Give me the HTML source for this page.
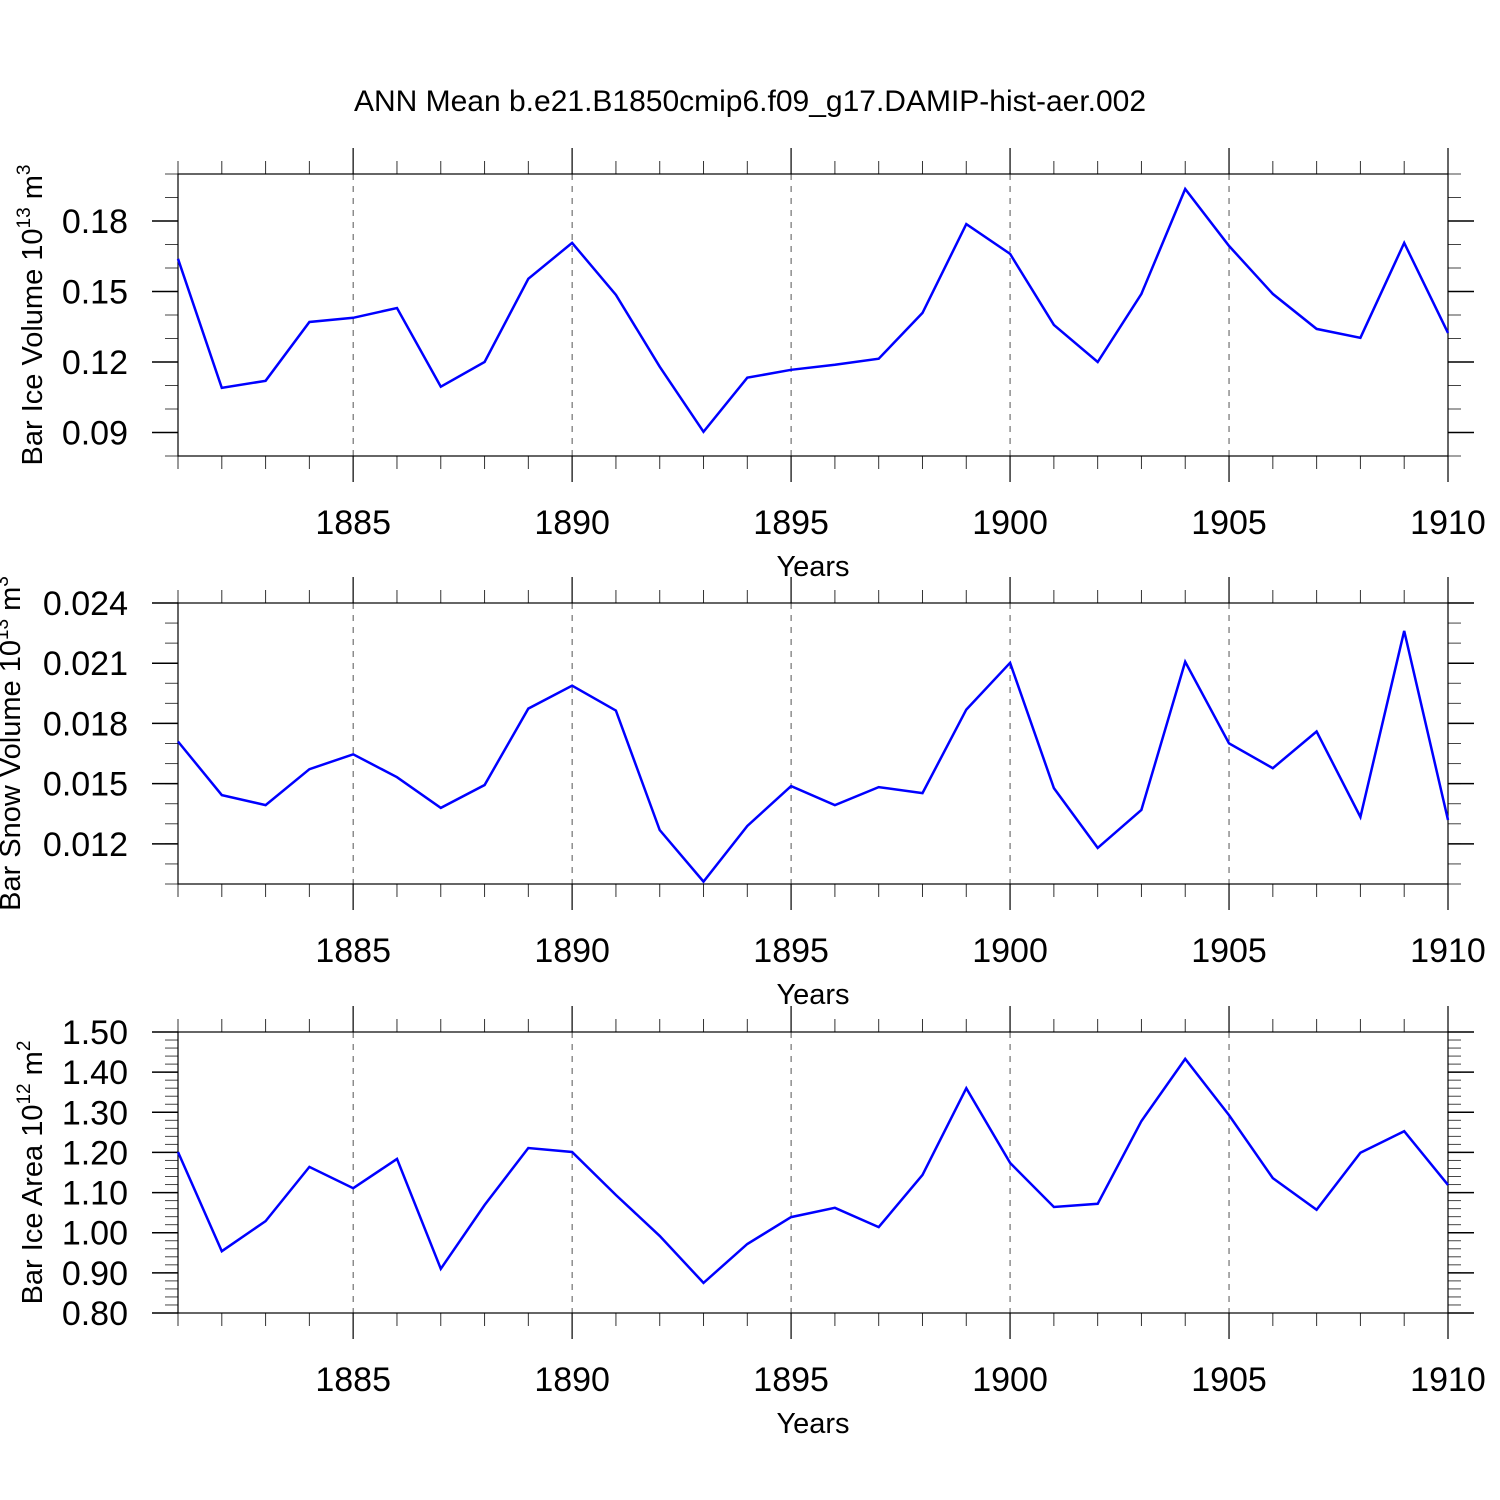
<!DOCTYPE html>
<html><head><meta charset="utf-8"><style>
html,body{margin:0;padding:0;background:#fff;}
svg{display:block;font-family:"Liberation Sans",sans-serif;}
</style></head><body>
<svg id="chart" width="1500" height="1500" viewBox="0 0 1500 1500" xmlns="http://www.w3.org/2000/svg">
<text x="750" y="111" font-size="30" text-anchor="middle">ANN Mean b.e21.B1850cmip6.f09_g17.DAMIP-hist-aer.002</text>
</svg>
<script>
const years = [1881,1882,1883,1884,1885,1886,1887,1888,1889,1890,1891,1892,1893,1894,1895,1896,1897,1898,1899,1900,1901,1902,1903,1904,1905,1906,1907,1908,1909,1910];
const iceVolume = [0.1639,0.109,0.112,0.137,0.1388,0.143,0.1095,0.120,0.1554,0.1707,0.1486,0.118,0.0903,0.1133,0.1167,0.1188,0.1214,0.1409,0.1787,0.166,0.1358,0.120,0.149,0.1936,0.1694,0.149,0.1341,0.1303,0.1707,0.1324];
const snowVolume = [0.0171,0.01443,0.01393,0.01572,0.01646,0.01532,0.01379,0.01493,0.01874,0.01988,0.01864,0.01269,0.01012,0.01289,0.01488,0.01393,0.01483,0.01453,0.01869,0.02102,0.01478,0.0118,0.01369,0.02107,0.01701,0.01577,0.0176,0.01334,0.02261,0.01319];
const iceArea = [1.201,0.954,1.029,1.164,1.111,1.184,0.910,1.069,1.211,1.201,1.094,0.992,0.875,0.972,1.039,1.062,1.014,1.144,1.360,1.174,1.064,1.072,1.278,1.433,1.293,1.136,1.057,1.199,1.253,1.119];
const xTicks = [1885,1890,1895,1900,1905,1910];
const yTicks1 = ["0.09","0.12","0.15","0.18"];
const yTicks2 = ["0.012","0.015","0.018","0.021","0.024"];
const yTicks3 = ["0.80","0.90","1.00","1.10","1.20","1.30","1.40","1.50"];

const NS="http://www.w3.org/2000/svg";
const svg=document.getElementById('chart');
function mk(tag,attrs,parent){const e=document.createElementNS(NS,tag);for(const k in attrs)e.setAttribute(k,attrs[k]);(parent||svg).appendChild(e);return e;}
const X0=178,X1=1448,XMIN=1881,XMAX=1910;
const xs=v=>X0+(v-XMIN)/(XMAX-XMIN)*(X1-X0);

const panels=[
 {name:'ice-volume',top:174,bot:456,min:0.08,max:0.2,data:iceVolume,ticks:yTicks1,minor:0.01,title:'Bar Ice Volume 10',sup:'13',unit:' m',usup:'3',tx:42},
 {name:'snow-volume',top:603,bot:884,min:0.010,max:0.024,data:snowVolume,ticks:yTicks2,minor:0.001,title:'Bar Snow Volume 10',sup:'13',unit:' m',usup:'3',tx:20},
 {name:'ice-area',top:1032,bot:1313,min:0.80,max:1.50,data:iceArea,ticks:yTicks3,minor:0.02,title:'Bar Ice Area 10',sup:'12',unit:' m',usup:'2',tx:42}
];
panels.forEach(p=>{
 const g=mk('g',{});
 
 
 const ys=v=>p.bot-(v-p.min)/(p.max-p.min)*(p.bot-p.top);
 xTicks.forEach(t=>{ if(t<XMAX){const l=mk('line',{x1:xs(t),x2:xs(t),y1:p.top,y2:p.bot,stroke:'#555','stroke-width':1,'stroke-dasharray':'6,6'},g);
  
  }});
 years.forEach(y=>{const major=xTicks.includes(y);const len=major?26:13;
  mk('line',{x1:xs(y),x2:xs(y),y1:p.top,y2:p.top-len,stroke:'#333','stroke-width':major?1.5:1},g);
  mk('line',{x1:xs(y),x2:xs(y),y1:p.bot,y2:p.bot+len,stroke:'#333','stroke-width':major?1.5:1},g);});
 const n=Math.round((p.max-p.min)/p.minor);
 for(let i=0;i<=n;i++){const v=p.min+i*p.minor;const y=ys(v);
  mk('line',{x1:X0,x2:X0-13,y1:y,y2:y,stroke:'#444','stroke-width':1},g);
  mk('line',{x1:X1,x2:X1+13,y1:y,y2:y,stroke:'#444','stroke-width':1},g);}
 p.ticks.forEach(t=>{const y=ys(parseFloat(t));
  mk('line',{x1:X0,x2:X0-26,y1:y,y2:y,stroke:'#000','stroke-width':1.5},g);
  mk('line',{x1:X1,x2:X1+26,y1:y,y2:y,stroke:'#000','stroke-width':1.5},g);
  const tx=mk('text',{x:128,y:y+12,'font-size':34,'text-anchor':'end'},g);tx.textContent=t;
  
  });
 const fr=mk('rect',{x:X0,y:p.top,width:X1-X0,height:p.bot-p.top,fill:'none',stroke:'#000','stroke-width':1.2},g);
 
 
 xTicks.forEach(t=>{const tx=mk('text',{x:xs(t),y:p.bot+78,'font-size':34,'text-anchor':'middle'},g);tx.textContent=t;
  
  });
 const xt=mk('text',{x:813,y:p.bot+120,'font-size':29,'text-anchor':'middle'},g);xt.textContent='Years';
 
 
 const cy=(p.top+p.bot)/2;
 const yt=mk('text',{x:0,y:0,'font-size':29,'text-anchor':'middle',transform:`translate(${p.tx},${cy}) rotate(-90)`},g);
 
 
 const t1=mk('tspan',{},yt);t1.textContent=p.title;
 const t2=mk('tspan',{dy:-12,'font-size':19},yt);t2.textContent=p.sup;
 const t3=mk('tspan',{dy:12},yt);t3.textContent=p.unit;
 const t4=mk('tspan',{dy:-12,'font-size':19},yt);t4.textContent=p.usup;
 const pts=p.data.map((v,i)=>xs(years[i]).toFixed(1)+','+ys(v).toFixed(1)).join(' ');
 const pl=mk('polyline',{points:pts,fill:'none',stroke:'#0000ff','stroke-width':2.5,'stroke-linejoin':'miter'},g);
 
 
});
</script>
</body></html>
